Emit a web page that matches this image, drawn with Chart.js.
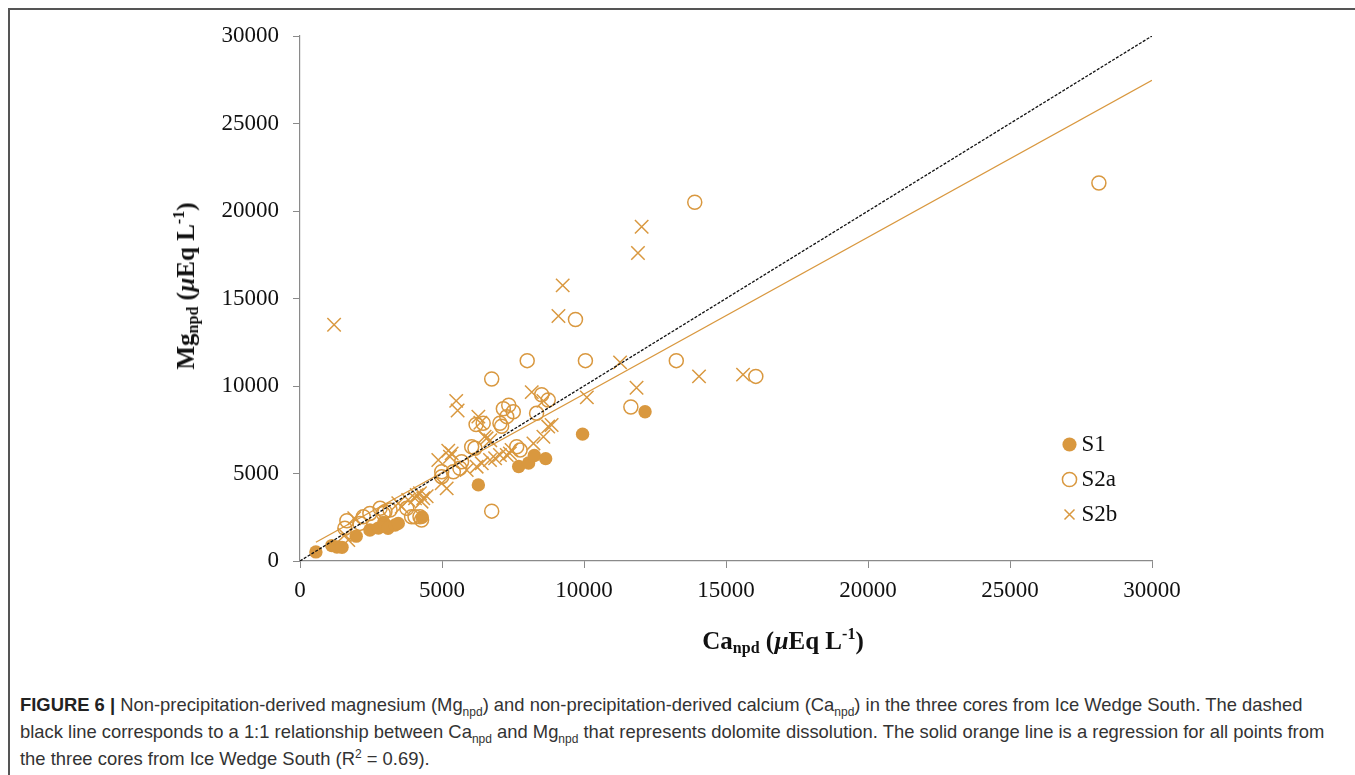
<!DOCTYPE html>
<html>
<head>
<meta charset="utf-8">
<script src="https://cdn.jsdelivr.net/npm/chart.js@4.4.1/dist/chart.umd.min.js"></script>
<style>
  html, body { margin: 0; padding: 0; background: #fff; }
  body { width: 1355px; height: 775px; position: relative; overflow: hidden; }
  #frame { position: absolute; left: 8px; top: 8px; width: 1400px; height: 800px;
           border-top: 2px solid #555; border-left: 2px solid #555; }
  #wrap { position: absolute; left: 0; top: 0; width: 1355px; height: 660px; }
  .axis-title { position: absolute; font-family: "Liberation Serif", "Times New Roman", serif;
                font-weight: bold; font-size: 25px; color: #111; white-space: nowrap; }
  .axis-title sub, .axis-title sup { font-size: 16px; }
  .axis-title sub { vertical-align: -4px; }
  .axis-title sup { vertical-align: 10px; }
  #ytitle { left: 186px; top: 286px; transform: translate(-50%, -50%) rotate(-90deg); }
  #xtitle { left: 783px; top: 641px; transform: translate(-50%, -50%); }
  #caption { position: absolute; left: 20px; top: 691px; width: 1330px;
             font-family: "Liberation Sans", Arial, sans-serif; font-size: 18.4px;
             line-height: 27px; color: #333; white-space: nowrap; }
  #caption sub, #caption sup { font-size: 12px; line-height: 0; }
  #caption b { color: #222; }
</style>
</head>
<body>
<div id="frame"></div>
<div id="wrap"><canvas id="chart" width="1355" height="660"></canvas></div>
<div class="axis-title" id="ytitle">Mg<sub>npd</sub> (<i>µ</i>Eq L<sup>-1</sup>)</div>
<div class="axis-title" id="xtitle">Ca<sub>npd</sub> (<i>µ</i>Eq L<sup>-1</sup>)</div>
<div id="caption"><b>FIGURE 6 |</b> Non-precipitation-derived magnesium (Mg<sub>npd</sub>) and non-precipitation-derived calcium (Ca<sub>npd</sub>) in the three cores from Ice Wedge South. The dashed<br>black line corresponds to a 1:1 relationship between Ca<sub>npd</sub> and Mg<sub>npd</sub> that represents dolomite dissolution. The solid orange line is a regression for all points from<br>the three cores from Ice Wedge South (R<sup>2</sup> = 0.69).</div>

<script>
// Core S1: Ca_npd and Mg_npd (µEq/L)
const s1Ca = [560, 1120, 1300, 1480, 1980, 2460, 2760, 2950, 3100, 3350, 3460, 4300, 6280, 7700, 8050, 8250, 8650, 9950, 12150];
const s1Mg = [520, 880, 800, 780, 1420, 1770, 1880, 2200, 1870, 2060, 2150, 2500, 4350, 5400, 5600, 6030, 5850, 7250, 8530];

// Core S2a
const s2aCa = [1580, 1650, 2110, 2230, 2460, 2820, 2930, 2990, 3170, 3760, 3930, 4050, 4225, 4280, 4990, 4990, 5400, 5630, 5690, 6045, 6160, 6200, 6450, 6750, 6750, 7040, 7100, 7160, 7280, 7350, 7510, 7630, 7750, 8000, 8330, 8510, 8740, 9700, 10050, 11650, 13250, 13900, 16050, 28130];
const s2aMg = [1870, 2300, 2150, 2530, 2720, 3010, 2720, 2820, 2910, 3010, 2530, 2530, 2530, 2340, 4820, 5100, 5100, 5300, 5670, 6530, 6440, 7800, 7870, 2850, 10400, 7870, 7700, 8700, 8250, 8900, 8530, 6530, 6340, 11450, 8440, 9500, 9200, 13800, 11450, 8800, 11450, 20500, 10550, 21600];

// Core S2b
const s2bCa = [1200, 1580, 1700, 1910, 3460, 3580, 3810, 4050, 4110, 4225, 4280, 4340, 4460, 4870, 4990, 5165, 5220, 5280, 5340, 5500, 5550, 5870, 6220, 6280, 6350, 6400, 6500, 6570, 6690, 6700, 6870, 7040, 7280, 7390, 7450, 8160, 8220, 8570, 8570, 8740, 8860, 9100, 9250, 10100, 11270, 11850, 11900, 12030, 14050, 15600];
const s2bMg = [13500, 1490, 1200, 2440, 3300, 3100, 3490, 3580, 3770, 3870, 3390, 3580, 3700, 5770, 4440, 4150, 6300, 5960, 6150, 9150, 8600, 5200, 5390, 8250, 7900, 5580, 7100, 7010, 5770, 6900, 5870, 6060, 6060, 6150, 6340, 9650, 6720, 7100, 9150, 7680, 7770, 14000, 15750, 9350, 11350, 9900, 17600, 19100, 10550, 10650];

// Reference lines: 1:1 (dolomite) and the regression through all cores
const oneToOneCa = [0, 30000];
const oneToOneMg = [0, 30000];
const trendCa = [560, 30000];
const trendMg = [1070, 27470];

// Axis ticks (both axes)
const axisTicks = [0, 5000, 10000, 15000, 20000, 25000, 30000];

const ORANGE = '#D9983F';
const AXIS_GREY = '#8a8a8a';
const TICK_FONT = { family: '"Liberation Serif", "Times New Roman", serif', size: 23 };

const pts = (xs, ys) => xs.map((x, i) => ({ x, y: ys[i] }));

// Places the legend inside the plot, to the lower right
const legendPlacer = {
  id: 'legendPlacer',
  afterLayout(chart) {
    const lg = chart.legend;
    if (!lg) return;
    const w = lg.width, h = lg.height;
    lg.left = 1057; lg.top = 421;
    lg.right = lg.left + w; lg.bottom = lg.top + h;
  }
};

const axisCommon = {
  type: 'linear',
  min: 0,
  max: 30000,
  afterBuildTicks(scale) { scale.ticks = axisTicks.map(v => ({ value: v })); },
  ticks: { font: TICK_FONT, color: '#111', callback: v => String(v) },
  grid: { drawOnChartArea: false, drawTicks: true, tickLength: 7, color: AXIS_GREY, lineWidth: 1 },
  border: { color: AXIS_GREY, width: 1.2 }
};

new Chart(document.getElementById('chart'), {
  type: 'scatter',
  plugins: [legendPlacer],
  data: {
    datasets: [
      { label: 'S1', data: pts(s1Ca, s1Mg), order: 5,
        pointStyle: 'circle', pointRadius: 6.7, pointHoverRadius: 6.7,
        backgroundColor: ORANGE, borderColor: ORANGE, borderWidth: 0 },
      { label: 'S2a', data: pts(s2aCa, s2aMg), order: 4,
        pointStyle: 'circle', pointRadius: 7, pointHoverRadius: 7,
        backgroundColor: 'rgba(255,255,255,0)', borderColor: ORANGE, borderWidth: 1.5 },
      { label: 'S2b', data: pts(s2bCa, s2bMg), order: 3,
        pointStyle: 'crossRot', pointRadius: 9.5, pointHoverRadius: 9.5,
        backgroundColor: ORANGE, borderColor: ORANGE, borderWidth: 1.5 },
      { label: 'Regression', data: pts(trendCa, trendMg), order: 2,
        showLine: true, pointRadius: 0, borderColor: ORANGE, borderWidth: 1.3, fill: false },
      { label: '1:1', data: pts(oneToOneCa, oneToOneMg), order: 1,
        showLine: true, pointRadius: 0, borderColor: '#111', borderWidth: 1.3,
        borderDash: [3, 1.5], fill: false }
    ]
  },
  options: {
    responsive: false,
    animation: false,
    devicePixelRatio: 1,
    layout: { padding: { left: 0, right: 203, top: 36, bottom: 0 } },
    scales: {
      x: Object.assign({}, axisCommon, {
        position: 'bottom',
        ticks: Object.assign({}, axisCommon.ticks, { padding: 9, maxRotation: 0 }),
        afterFit(scale) { scale.height = 99; }
      }),
      y: Object.assign({}, axisCommon, {
        position: 'left',
        ticks: Object.assign({}, axisCommon.ticks, { padding: 14 }),
        afterFit(scale) { scale.width = 300; }
      })
    },
    plugins: {
      tooltip: { enabled: false },
      legend: {
        position: 'chartArea',
        align: 'start',
        labels: {
          usePointStyle: true,
          boxWidth: 1,
          boxHeight: 10,
          padding: 12,
          font: TICK_FONT,
          color: '#111',
          filter: item => item.datasetIndex < 3,
          sort: (a, b) => a.datasetIndex - b.datasetIndex
        }
      }
    }
  }
});
</script>
</body>
</html>
